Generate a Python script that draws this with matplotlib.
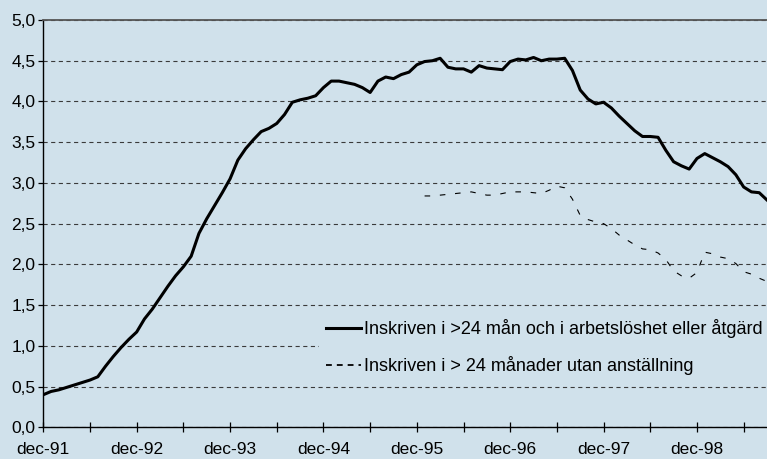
import matplotlib.pyplot as plt
from matplotlib.lines import Line2D

plt.rcParams['font.family'] = ['Liberation Sans', 'DejaVu Sans']
plt.rcParams['lines.scale_dashes'] = False

# monthly values, month 0 = dec-91
long_total = [0.40, 0.44, 0.46, 0.49, 0.52, 0.55, 0.58, 0.62, 0.75, 0.87,
              0.98, 1.08, 1.17, 1.33, 1.45, 1.59, 1.73, 1.86, 1.97, 2.10,
              2.38, 2.56, 2.72, 2.88, 3.05, 3.28, 3.42, 3.53, 3.63, 3.67,
              3.73, 3.84, 3.99, 4.02, 4.04, 4.07, 4.17, 4.25, 4.25, 4.23,
              4.21, 4.17, 4.11, 4.25, 4.30, 4.28, 4.33, 4.36, 4.45, 4.49,
              4.50, 4.53, 4.42, 4.40, 4.40, 4.36, 4.44, 4.41, 4.40, 4.39,
              4.49, 4.52, 4.51, 4.54, 4.50, 4.52, 4.52, 4.53, 4.38, 4.14,
              4.03, 3.97, 3.99, 3.92, 3.82, 3.73, 3.64, 3.57, 3.57, 3.56,
              3.40, 3.26, 3.21, 3.17, 3.30, 3.36, 3.31, 3.26, 3.20, 3.10,
              2.95, 2.89, 2.88, 2.79]
long_start = 0

no_job_start = 49
no_job = [2.84, 2.84, 2.85, 2.86, 2.87, 2.88, 2.89, 2.87, 2.85, 2.85,
          2.87, 2.89, 2.89, 2.89, 2.88, 2.87, 2.91, 2.96, 2.94, 2.80,
          2.60, 2.55, 2.52, 2.50, 2.44, 2.36, 2.30, 2.24, 2.19, 2.18,
          2.14, 2.06, 1.92, 1.86, 1.83, 1.90, 2.15, 2.13, 2.09, 2.07,
          2.01, 1.91, 1.88, 1.83, 1.79]

labels = ["Inskriven i >24 mån och i arbetslöshet eller åtgärd",
          "Inskriven i > 24 månader utan anställning"]

tick_months = [0, 6, 12, 18, 24, 30, 36, 42, 48, 54, 60, 66, 72, 78, 84, 90]
tick_labels = ["dec-91", "", "dec-92", "", "dec-93", "", "dec-94", "",
               "dec-95", "", "dec-96", "", "dec-97", "", "dec-98", ""]

bg = '#D0E1EB'
W, H = 767, 459
fig = plt.figure(figsize=(W / 100, H / 100), dpi=100, facecolor=bg)
ax = fig.add_axes([43.3 / W, 1 - 427.3 / H, (767 - 43.3) / W, (427.3 - 20) / H])
ax.set_facecolor(bg)

x1 = list(range(long_start, long_start + len(long_total)))
x2 = list(range(no_job_start, no_job_start + len(no_job)))
ax.plot(x1, long_total, color='black', lw=2.2, solid_joinstyle='round', zorder=3)
ax.plot(x2, no_job, color='black', lw=0.8, linestyle=(0, (4, 7)), zorder=3)

ax.set_xlim(0, 93)
ax.set_ylim(0, 5)
ax.set_yticks([i * 0.5 for i in range(11)])
ax.set_yticklabels([f"{i * 0.5:.1f}".replace('.', ',') for i in range(11)])
ax.set_xticks(tick_months)
ax.set_xticklabels(tick_labels)

ax.yaxis.grid(True, linestyle=(0, (3, 2.5)), color='#3a3a3a', lw=0.8)
ax.set_axisbelow(True)

for s in ['left', 'bottom']:
    ax.spines[s].set_color('black')
    ax.spines[s].set_linewidth(1.0)
ax.spines['right'].set_visible(False)
ax.spines['top'].set_color('#555555')
ax.spines['top'].set_linewidth(1.3)

ax.tick_params(axis='y', direction='out', length=3.6, width=0.9, pad=2,
               labelsize=12.5, colors='black')
ax.tick_params(axis='x', direction='inout', length=7.2, width=0.9, pad=7,
               labelsize=12.5, colors='black')

handles = [Line2D([], [], color='black', lw=2.2),
           Line2D([], [], color='black', lw=1.3, linestyle=(0, (4.2, 3.6)))]
leg = ax.legend(handles, labels, loc='upper left',
                bbox_to_anchor=(319 / W, 1 - 312 / H), bbox_transform=fig.transFigure,
                borderaxespad=0, borderpad=0.4, fontsize=13, handlelength=1.9,
                handletextpad=0.17, labelspacing=1.0, frameon=True,
                fancybox=False, facecolor=bg, edgecolor='none', framealpha=1)

fig.savefig('out.png', dpi=100, facecolor=bg)
